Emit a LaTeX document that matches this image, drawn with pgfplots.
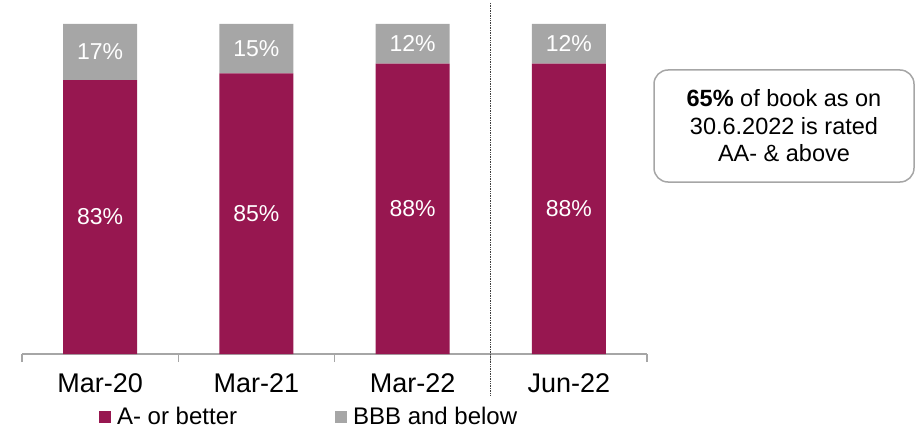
\documentclass[border=0pt]{standalone}
\usepackage{pgfplots}
\pgfplotsset{compat=1.18}
\usepackage{fontspec}
\setmainfont{Liberation Sans}
\definecolor{maroon}{HTML}{971750}
\definecolor{lgray}{HTML}{A6A6A6}
\begin{document}
\begin{tikzpicture}[x=1bp,y=1bp]
\path[use as bounding box] (0,0) rectangle (916,431);
\begin{axis}[
  at={(22bp,77bp)}, anchor=south west,
  scale only axis, width=625bp, height=354bp,
  ymin=0, ymax=107.27, xmin=-0.5, xmax=3.5,
  clip=false,
  ybar stacked, bar width=74bp,
  axis x line=bottom, hide y axis,
  axis line style={lgray, line width=1.4bp, -},
  xtick={-0.5,0.5,1.5,2.5,3.5}, xticklabels={},
  tick align=outside, major tick length=8bp,
  tick style={lgray, line width=1.4bp},
  extra x ticks={0,1,2,3},
  extra x tick labels={Mar-20,Mar-21,Mar-22,Jun-22},
  extra x tick style={major tick length=0pt,
     xticklabel style={font=\fontsize{27bp}{32bp}\selectfont, inner sep=0pt, anchor=north, yshift=-19bp}},
  /pgf/number format/assume math mode=true,
  visualization depends on=rawy \as \rawy,
  nodes near coords={\pgfmathprintnumber{\rawy}\%},
  every node near coord/.append style={anchor=center, text=white,
     font=\fontsize{23bp}{27bp}\selectfont},
  legend columns=2,
  legend style={draw=none, fill=none, inner sep=0pt, at={(0.123,-0.178)}, anchor=west,
     font=\fontsize{24bp}{28bp}\selectfont,
     /tikz/every even column/.append style={column sep=96bp}},
  legend image code/.code={\fill[#1] (0bp,-6bp) rectangle (12bp,6bp); \path (16bp,0bp);},
]
\addplot[fill=maroon, draw=none] coordinates {(0,83) (1,85) (2,88) (3,88)};
\addplot[fill=lgray, draw=none] coordinates {(0,17) (1,15) (2,12) (3,12)};
\legend{A- or better, BBB and below}
\draw[densely dotted, black!75, line width=0.7bp] (axis cs:2.5,106.4) -- (axis cs:2.5,-12.4);
\end{axis}
\node[draw=lgray, line width=1.5bp, rounded corners=14bp, minimum width=260bp, minimum height=112bp,
  align=center, font=\fontsize{23.5bp}{27.5bp}\selectfont] at (784,305)
  {\textbf{65\%} of book as on\\30.6.2022 is rated\\AA- \& above};
\end{tikzpicture}
\end{document}
